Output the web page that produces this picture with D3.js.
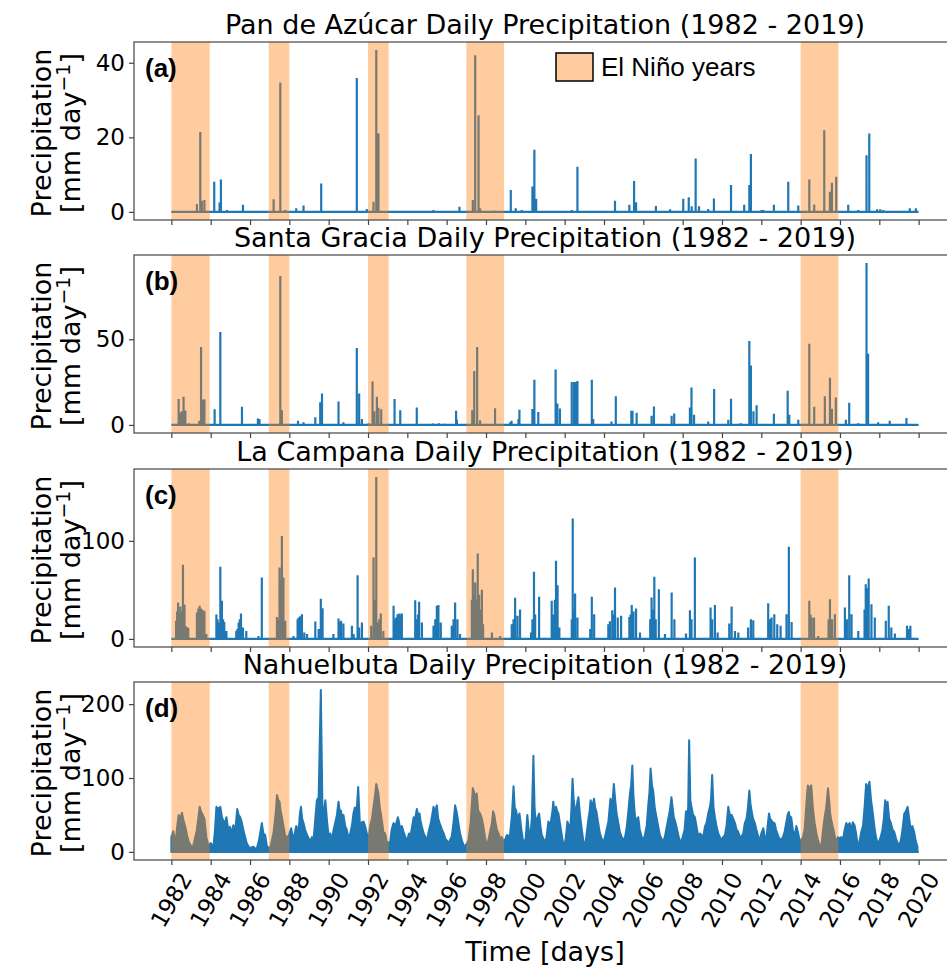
<!DOCTYPE html>
<html>
<head>
<meta charset="utf-8">
<script src="https://cdn.jsdelivr.net/npm/d3@7"></script>
<style>
  body { margin: 0; background: #fff; }
  text { font-family: "DejaVu Sans", sans-serif; }
</style>
</head>
<body>
<svg id="fig" width="947" height="967"></svg>
<script>
// station names + panel tags
var stations = ["Pan de Azúcar", "Santa Gracia", "La Campana", "Nahuelbuta"];
var tags = ["(a)", "(b)", "(c)", "(d)"];

// El Nino periods, decimal years
var ninoYears = [[1982.0, 1983.95], [1986.95, 1988.0], [1992.0, 1993.05], [1997.0, 1998.92], [2014.0, 2015.92]];

var xTickYears = [1982, 1984, 1986, 1988, 1990, 1992, 1994, 1996, 1998, 2000,
                  2002, 2004, 2006, 2008, 2010, 2012, 2014, 2016, 2018, 2020];
var yTicksA = [0, 20, 40];
var yTicksB = [0, 50];
var yTicksC = [0, 100];
var yTicksD = [0, 100, 200];

// daily precipitation peaks [year, mm/day]
var panAzucar = [
  [1983.3, 2.1], [1983.47, 21.4], [1983.55, 3], [1983.68, 3.2],
  [1984.18, 8.1], [1984.45, 2.5], [1984.52, 8.7], [1984.83, 0.5], [1985.64, 1.9],
  [1987.2, 3.4], [1987.54, 34.7], [1987.79, 0.5], [1988.35, 1], [1988.72, 1.7], [1989.62, 7.6],
  [1991.43, 35.9], [1991.94, 0.8], [1992.28, 2.7], [1992.42, 43.4], [1992.53, 21],
  [1995.33, 0.5], [1996.65, 1.4], [1997.33, 3.2], [1997.45, 42], [1997.62, 25.9], [1997.7, 1], [1998.46, 0.3],
  [1999.26, 5.9], [1999.51, 1], [1999.82, 0.5], [2000.36, 6.8], [2000.46, 16.7], [2000.55, 3.5],
  [2002.36, 0.5], [2002.65, 12.1], [2004.56, 3], [2005.29, 1.9], [2005.53, 8.3], [2005.63, 2.6],
  [2006.64, 1.6], [2007.36, 0.7],
  [2008.03, 3.5], [2008.31, 3.9], [2008.46, 1.5], [2008.66, 14.3], [2008.83, 1.5], [2009.3, 0.8],
  [2009.59, 3.6], [2010.46, 7.2],
  [2011.13, 1.9], [2011.39, 7.2], [2011.47, 15.5], [2012.01, 0.5], [2012.1, 0.5], [2012.64, 1.9],
  [2013.37, 8.1], [2013.88, 1.7],
  [2014.44, 8.7], [2014.69, 2], [2015.2, 21.9], [2015.49, 5.4], [2015.59, 7.8], [2015.81, 9.4],
  [2016.42, 1.9], [2016.93, 0.5],
  [2017.35, 15.2], [2017.49, 21], [2017.89, 0.7], [2018.05, 0.7], [2018.2, 0.5], [2019.55, 1], [2019.86, 1]
];

var santaGracia = [
  [1982.37, 15.1], [1982.46, 7.2], [1982.54, 8], [1982.62, 16.5], [1982.71, 8.4], [1982.88, 1],
  [1983.42, 2.4], [1983.51, 45.5], [1983.61, 14.7], [1983.68, 15],
  [1984.2, 9.2], [1984.49, 54.3], [1985.59, 10.6], [1986.4, 3.7], [1986.48, 3.5],
  [1987.2, 0.5], [1987.54, 87], [1987.62, 8.6], [1988.44, 2.4], [1988.72, 1.5],
  [1989.32, 4.5], [1989.57, 13.3], [1989.66, 18.4], [1990.5, 13.7], [1990.75, 1.5],
  [1991.43, 44.9], [1991.55, 18.4], [1991.69, 3.5],
  [1992.03, 1], [1992.23, 25.3], [1992.32, 8], [1992.45, 16.5], [1992.53, 10], [1992.67, 9.2],
  [1993.35, 15.1], [1993.64, 8.6], [1994.48, 10.2], [1995.3, 0.8], [1995.6, 1], [1995.9, 0.7],
  [1996.48, 8.2], [1996.52, 3],
  [1997.3, 8.5], [1997.4, 31.5], [1997.55, 45.5], [1997.7, 2.7], [1998.46, 9.8],
  [1999.23, 1.5], [1999.3, 2.5], [1999.65, 3.5], [1999.7, 8.8],
  [2000.36, 9.3], [2000.46, 26.3], [2000.66, 7.6],
  [2001.54, 32.3], [2001.63, 12.5], [2001.76, 9.6],
  [2002.36, 25.1], [2002.48, 25], [2002.58, 25.1], [2002.65, 25.6],
  [2003.38, 26.3], [2003.45, 3.5],
  [2004.38, 2], [2004.6, 16.7],
  [2005.39, 8.2], [2005.45, 8.2], [2005.66, 7.1],
  [2006.42, 5.3], [2006.54, 10.7],
  [2007.44, 5.3], [2007.57, 6.7],
  [2008.37, 10.2], [2008.45, 21.9], [2008.58, 6],
  [2009.3, 2], [2009.6, 21],
  [2010.32, 3], [2010.46, 15.3], [2010.95, 1],
  [2011.39, 49], [2011.47, 34.7], [2011.6, 8], [2011.76, 11.5],
  [2012.64, 6.5], [2013.34, 20], [2013.42, 6], [2013.88, 3],
  [2014.44, 47.4], [2014.69, 10.6],
  [2015.23, 16.7], [2015.49, 27.5], [2015.59, 9.4], [2015.79, 16],
  [2016.3, 3], [2016.47, 12.9], [2016.93, 1],
  [2017.35, 94.5], [2017.43, 41.6], [2017.94, 1.5], [2018.53, 2.5], [2019.38, 4]
];

var laCampana = [
  [1982.24, 18.4], [1982.29, 28], [1982.34, 37], [1982.4, 26], [1982.46, 33], [1982.5, 28], [1982.54, 25],
  [1982.59, 75.5], [1982.63, 30], [1982.67, 35], [1982.74, 13], [1982.8, 12], [1982.86, 11],
  [1983.3, 27], [1983.37, 31], [1983.44, 33.7], [1983.5, 31], [1983.56, 30], [1983.62, 28], [1983.68, 28.6], [1983.78, 5],
  [1984.29, 25], [1984.35, 20], [1984.4, 16.7], [1984.49, 73.5], [1984.53, 30], [1984.57, 38.8], [1984.63, 20],
  [1984.69, 17.3], [1984.8, 8],
  [1985.3, 8], [1985.36, 10], [1985.42, 16.7], [1985.48, 20], [1985.54, 25.9], [1985.64, 11.6], [1985.81, 8],
  [1986.43, 3], [1986.6, 62.6],
  [1987.37, 22.4], [1987.44, 20], [1987.5, 72.8], [1987.56, 60], [1987.62, 105], [1987.7, 62.6], [1987.79, 18.4],
  [1988.21, 3], [1988.42, 20], [1988.47, 21.8], [1988.55, 23], [1988.64, 25.2], [1988.76, 6.5], [1988.9, 5],
  [1989.32, 17.7], [1989.49, 10], [1989.6, 41], [1989.69, 31.3],
  [1990.24, 5], [1990.5, 20.7], [1990.57, 17], [1990.63, 18.4], [1990.75, 15.6],
  [1991.18, 13.3], [1991.27, 5], [1991.47, 65], [1991.55, 11.6], [1991.69, 16.7],
  [1992.16, 13.3], [1992.28, 83], [1992.35, 40], [1992.42, 165], [1992.5, 16.7], [1992.57, 20], [1992.65, 25.9], [1992.78, 8],
  [1993.3, 33.7], [1993.37, 20], [1993.43, 21.8], [1993.5, 25.2], [1993.6, 25.9], [1993.66, 24], [1993.72, 25.9],
  [1994.4, 39.5], [1994.48, 20], [1994.54, 25], [1994.6, 37.8], [1994.74, 16.7],
  [1995.33, 13.3], [1995.42, 20], [1995.5, 33.7], [1995.58, 34.7], [1995.7, 16.7],
  [1996.26, 13.3], [1996.35, 20], [1996.43, 37], [1996.55, 20], [1996.68, 5],
  [1997.28, 40], [1997.33, 71], [1997.4, 45], [1997.45, 57.5], [1997.52, 40], [1997.58, 87], [1997.65, 45], [1997.72, 30],
  [1997.79, 50], [1997.85, 15],
  [1998.3, 6.5], [1998.72, 3],
  [1999.31, 15], [1999.4, 20], [1999.48, 42], [1999.6, 23.5], [1999.73, 30],
  [2000.29, 6.5], [2000.36, 20], [2000.44, 68.4], [2000.5, 25], [2000.7, 42.9],
  [2001.34, 38.8], [2001.42, 25], [2001.5, 40], [2001.56, 79.6], [2001.64, 54.8], [2001.73, 11.6],
  [2002.36, 20], [2002.41, 122.8], [2002.47, 30], [2002.53, 46.3], [2002.65, 21.8],
  [2003.3, 10], [2003.38, 42.9], [2003.5, 25.2],
  [2004.22, 15], [2004.3, 18], [2004.42, 29.3], [2004.5, 25], [2004.56, 52.4], [2004.7, 21.8], [2004.87, 23.5],
  [2005.29, 22.4], [2005.35, 25], [2005.41, 34.7], [2005.5, 27.9], [2005.63, 31], [2005.83, 6.5],
  [2006.35, 20], [2006.42, 42.2], [2006.5, 30], [2006.56, 63.3], [2006.63, 20], [2006.79, 50.7], [2007.1, 5],
  [2007.44, 47.3], [2007.58, 20],
  [2008.17, 5.4], [2008.37, 29.3], [2008.45, 20], [2008.62, 83],
  [2009.42, 32], [2009.5, 20], [2009.64, 34.7], [2009.78, 6.5],
  [2010.37, 15.6], [2010.49, 33], [2010.66, 8], [2010.83, 6.5],
  [2011.33, 11.6], [2011.47, 20], [2011.59, 19],
  [2012.35, 36.4], [2012.45, 20], [2012.52, 21.8], [2012.66, 25.2], [2012.81, 15], [2012.98, 13.3],
  [2013.28, 25.2], [2013.4, 93.9], [2013.54, 17.3],
  [2014.44, 38.8], [2014.5, 25], [2014.56, 21.8], [2014.68, 21.8], [2014.89, 3],
  [2015.42, 20], [2015.49, 40.5], [2015.6, 20], [2015.74, 25.2],
  [2016.25, 32], [2016.35, 20], [2016.47, 65], [2016.59, 25.2], [2016.93, 8],
  [2017.25, 30], [2017.31, 55.8], [2017.39, 52], [2017.46, 61.6], [2017.6, 35.4], [2017.77, 21.8],
  [2018.33, 18.4], [2018.48, 33.7], [2018.61, 11.6], [2018.79, 5.4],
  [2019.41, 13.3], [2019.5, 10], [2019.58, 13.3]
];

// Nahuelbuta rains almost every winter day, so these are the upper envelope values
var nahuelbuta = [
  [1982.0, 20], [1982.1, 28], [1982.2, 10], [1982.3, 35], [1982.37, 50], [1982.45, 45], [1982.54, 53], [1982.62, 42],
  [1982.71, 34], [1982.8, 22], [1982.88, 14], [1983.0, 8], [1983.1, 7],
  [1983.2, 18], [1983.3, 30], [1983.44, 61], [1983.5, 55], [1983.56, 52], [1983.68, 45], [1983.78, 20], [1983.9, 7],
  [1984.0, 12], [1984.14, 7], [1984.22, 30], [1984.29, 61], [1984.4, 58], [1984.49, 61], [1984.57, 47], [1984.7, 38],
  [1984.8, 47], [1984.9, 28], [1984.98, 34],
  [1985.07, 25], [1985.15, 36], [1985.25, 30], [1985.35, 58], [1985.42, 50], [1985.5, 47], [1985.58, 40], [1985.66, 30],
  [1985.75, 20], [1985.83, 12], [1985.97, 5],
  [1986.17, 7], [1986.33, 3], [1986.45, 15], [1986.6, 39], [1986.68, 25], [1986.77, 23], [1986.86, 7],
  [1987.03, 5], [1987.2, 27], [1987.3, 50], [1987.37, 77], [1987.44, 70], [1987.5, 68], [1987.56, 55], [1987.62, 47],
  [1987.7, 35], [1987.79, 21], [1987.96, 21],
  [1988.09, 32], [1988.21, 16], [1988.35, 35], [1988.47, 27], [1988.53, 50], [1988.59, 61], [1988.65, 45], [1988.72, 39],
  [1988.8, 30], [1988.9, 23], [1989.06, 14],
  [1989.15, 20], [1989.23, 16], [1989.32, 45], [1989.4, 70], [1989.49, 74], [1989.6, 219], [1989.69, 43], [1989.76, 55],
  [1989.83, 70], [1989.92, 40], [1990.0, 21],
  [1990.08, 25], [1990.17, 16], [1990.25, 30], [1990.33, 39], [1990.42, 50], [1990.5, 68], [1990.56, 55], [1990.62, 56],
  [1990.7, 45], [1990.75, 50], [1990.84, 35], [1990.92, 30],
  [1991.0, 20], [1991.08, 23], [1991.18, 35], [1991.26, 52], [1991.33, 60], [1991.4, 47], [1991.5, 88], [1991.6, 30],
  [1991.68, 40], [1991.77, 41], [1991.85, 35], [1991.94, 25],
  [1992.02, 15], [1992.1, 34], [1992.2, 45], [1992.28, 61], [1992.35, 75], [1992.42, 92], [1992.48, 85], [1992.53, 79],
  [1992.6, 60], [1992.65, 52], [1992.72, 40], [1992.78, 27], [1992.87, 25], [1992.95, 14],
  [1993.12, 12], [1993.2, 30], [1993.3, 39], [1993.4, 35], [1993.52, 47], [1993.58, 40], [1993.64, 30], [1993.72, 35],
  [1993.81, 27], [1993.9, 20], [1993.98, 14],
  [1994.08, 25], [1994.15, 21], [1994.25, 35], [1994.32, 47], [1994.4, 45], [1994.48, 58], [1994.55, 50], [1994.62, 52],
  [1994.68, 40], [1994.74, 34], [1994.83, 25], [1994.91, 21],
  [1995.0, 15], [1995.08, 27], [1995.2, 40], [1995.33, 61], [1995.42, 55], [1995.5, 63], [1995.57, 45], [1995.64, 39],
  [1995.7, 35], [1995.76, 30], [1995.85, 25], [1995.93, 18],
  [1996.1, 12], [1996.26, 21], [1996.35, 40], [1996.43, 63], [1996.5, 55], [1996.55, 47], [1996.62, 35], [1996.68, 25],
  [1996.78, 15], [1996.89, 7],
  [1997.0, 10], [1997.11, 16], [1997.22, 40], [1997.33, 86], [1997.4, 80], [1997.45, 74], [1997.53, 79], [1997.6, 56],
  [1997.7, 52], [1997.79, 45], [1997.87, 34], [1997.95, 20], [1998.04, 7],
  [1998.15, 20], [1998.3, 39], [1998.36, 55], [1998.42, 50], [1998.48, 40], [1998.55, 30], [1998.63, 25], [1998.72, 18],
  [1998.8, 20], [1998.89, 14],
  [1999.0, 18], [1999.06, 23], [1999.15, 20], [1999.23, 25], [1999.32, 50], [1999.4, 89], [1999.46, 60], [1999.53, 56],
  [1999.6, 45], [1999.7, 52], [1999.8, 30], [1999.9, 12],
  [2000.02, 18], [2000.1, 50], [2000.17, 30], [2000.24, 16], [2000.33, 45], [2000.41, 130], [2000.47, 60], [2000.53, 39],
  [2000.6, 45], [2000.7, 52], [2000.77, 35], [2000.83, 23], [2000.92, 18], [2001.0, 12],
  [2001.08, 20], [2001.17, 41], [2001.25, 35], [2001.31, 43], [2001.38, 55], [2001.42, 68], [2001.5, 50], [2001.56, 61],
  [2001.62, 55], [2001.68, 52], [2001.75, 40], [2001.81, 30], [2001.9, 15], [2001.98, 5],
  [2002.06, 20], [2002.14, 41], [2002.21, 35], [2002.28, 30], [2002.34, 55], [2002.4, 99], [2002.46, 70], [2002.53, 54],
  [2002.6, 60], [2002.66, 70], [2002.7, 74], [2002.78, 50], [2002.87, 30], [2002.95, 15], [2003.04, 7],
  [2003.12, 25], [2003.2, 43], [2003.27, 55], [2003.32, 70], [2003.4, 60], [2003.49, 72], [2003.55, 60], [2003.62, 54],
  [2003.7, 40], [2003.79, 25], [2003.88, 18], [2003.96, 12],
  [2004.05, 20], [2004.13, 30], [2004.22, 40], [2004.33, 72], [2004.42, 60], [2004.5, 92], [2004.57, 70], [2004.64, 52],
  [2004.72, 40], [2004.81, 27], [2004.9, 20], [2004.98, 16],
  [2005.07, 20], [2005.15, 32], [2005.24, 55], [2005.32, 79], [2005.38, 90], [2005.44, 117], [2005.5, 75], [2005.57, 50],
  [2005.65, 40], [2005.74, 47], [2005.82, 30], [2005.91, 21],
  [2006.0, 15], [2006.08, 23], [2006.17, 35], [2006.25, 63], [2006.31, 80], [2006.37, 113], [2006.44, 90], [2006.5, 83],
  [2006.58, 60], [2006.67, 47], [2006.75, 35], [2006.84, 23], [2006.92, 18], [2007.0, 14],
  [2007.09, 20], [2007.18, 32], [2007.27, 45], [2007.35, 56], [2007.43, 74], [2007.49, 60], [2007.55, 47], [2007.63, 40],
  [2007.72, 30], [2007.8, 20], [2007.89, 12],
  [2008.0, 20], [2008.1, 30], [2008.17, 55], [2008.22, 41], [2008.28, 60], [2008.33, 151], [2008.39, 70], [2008.45, 61],
  [2008.53, 50], [2008.62, 47], [2008.7, 35], [2008.79, 21], [2008.88, 25], [2008.96, 23],
  [2009.05, 20], [2009.13, 34], [2009.22, 40], [2009.3, 52], [2009.38, 60], [2009.44, 70], [2009.5, 104], [2009.57, 60],
  [2009.64, 47], [2009.72, 35], [2009.81, 25], [2009.9, 20], [2009.98, 16],
  [2010.06, 20], [2010.15, 23], [2010.23, 35], [2010.32, 61], [2010.4, 50], [2010.49, 50], [2010.57, 45], [2010.66, 39],
  [2010.74, 30], [2010.83, 27], [2010.91, 20], [2010.99, 21],
  [2011.08, 25], [2011.16, 39], [2011.25, 45], [2011.32, 60], [2011.39, 83], [2011.45, 65], [2011.5, 56], [2011.58, 45],
  [2011.67, 39], [2011.75, 30], [2011.84, 21], [2011.92, 15], [2012.0, 25], [2012.1, 32],
  [2012.18, 20], [2012.25, 14], [2012.32, 35], [2012.39, 52], [2012.45, 45], [2012.5, 43], [2012.58, 40], [2012.67, 39],
  [2012.75, 30], [2012.84, 23], [2012.92, 18], [2013.01, 16],
  [2013.1, 20], [2013.18, 27], [2013.27, 40], [2013.34, 50], [2013.4, 54], [2013.46, 45], [2013.52, 47], [2013.6, 30],
  [2013.69, 21], [2013.78, 35], [2013.86, 27], [2013.95, 15], [2014.03, 16],
  [2014.12, 20], [2014.2, 30], [2014.28, 60], [2014.33, 80], [2014.37, 90], [2014.45, 85], [2014.54, 90], [2014.62, 60],
  [2014.71, 39], [2014.8, 25], [2014.88, 16], [2014.96, 10], [2015.05, 7],
  [2015.14, 30], [2015.22, 47], [2015.3, 60], [2015.39, 86], [2015.45, 70], [2015.5, 52], [2015.58, 40], [2015.67, 30],
  [2015.74, 20], [2015.81, 14], [2015.9, 20],
  [2015.98, 18], [2016.07, 20], [2016.15, 16], [2016.24, 30], [2016.32, 39], [2016.4, 35], [2016.49, 39], [2016.57, 30],
  [2016.65, 40], [2016.74, 36], [2016.82, 25], [2016.91, 7],
  [2017.0, 15], [2017.08, 27], [2017.17, 35], [2017.25, 60], [2017.33, 92], [2017.42, 85], [2017.5, 95], [2017.58, 70],
  [2017.67, 52], [2017.75, 34], [2017.83, 20], [2017.91, 12],
  [2018.0, 15], [2018.08, 21], [2018.16, 30], [2018.23, 45], [2018.3, 70], [2018.36, 50], [2018.42, 68], [2018.5, 45],
  [2018.59, 39], [2018.67, 30], [2018.76, 27], [2018.85, 18], [2018.93, 12],
  [2019.02, 10], [2019.1, 16], [2019.18, 30], [2019.27, 52], [2019.35, 55], [2019.44, 61], [2019.52, 45], [2019.6, 30],
  [2019.68, 35], [2019.77, 27], [2019.85, 15], [2019.94, 7]
];

var svg = d3.select("#fig");
svg.append("rect").attr("width", 947).attr("height", 967).attr("fill", "#fff");

var lineColor = "#1f77b4", ninoColor = "#ff7f0e", ninoAlpha = 0.4, spine = "#444";
var left = 134, right = 956, panelH = 178;
var tops = [42, 255, 469, 682];

var x = d3.scaleLinear().domain([1980.1, 2021.9]).range([left, right]);

var panels = [
  {name: stations[0], tag: tags[0], data: panAzucar, ticks: yTicksA, kind: "stem"},
  {name: stations[1], tag: tags[1], data: santaGracia, ticks: yTicksB, kind: "stem"},
  {name: stations[2], tag: tags[2], data: laCampana, ticks: yTicksC, kind: "stem"},
  {name: stations[3], tag: tags[3], data: nahuelbuta, ticks: yTicksD, kind: "area"}
];

panels.forEach(function(p, i) {
  var top = tops[i], bottom = top + panelH;
  var ymax = d3.max(p.data, function(d) { return d[1]; });
  var y = d3.scaleLinear().domain([-0.05 * ymax, 1.05 * ymax]).range([bottom, top]);

  var g = svg.append("g");
  g.append("clipPath").attr("id", "clip" + i)
    .append("rect").attr("x", left).attr("y", top).attr("width", right - left).attr("height", panelH);
  var plot = g.append("g").attr("clip-path", "url(#clip" + i + ")");

  // zero line over the whole record
  plot.append("path")
    .attr("d", d3.line()([[x(1982), y(0)], [x(2020), y(0)]]))
    .attr("stroke", lineColor).attr("stroke-width", 2.2).attr("fill", "none");

  if (p.kind === "stem") {
    var stems = p.data.map(function(d) { return "M" + x(d[0]) + "," + y(0) + "V" + y(d[1]); }).join("");
    plot.append("path").attr("d", stems)
      .attr("stroke", lineColor).attr("stroke-width", 2.2).attr("fill", "none");
  } else {
    var pts = [[p.data[0][0], 0]].concat(p.data, [[p.data[p.data.length - 1][0], 0]]);
    var area = d3.area()
      .x(function(d) { return x(d[0]); })
      .y0(y(0))
      .y1(function(d) { return y(d[1]); });
    plot.append("path").attr("d", area(pts))
      .attr("fill", lineColor).attr("stroke", lineColor).attr("stroke-width", 2)
      .attr("stroke-linejoin", "round");
  }

  // El Nino shading on top of the line
  plot.selectAll(".nino").data(ninoYears).enter().append("rect")
    .attr("x", function(d) { return x(d[0]); })
    .attr("width", function(d) { return x(d[1]) - x(d[0]); })
    .attr("y", top).attr("height", panelH)
    .attr("fill", ninoColor).attr("fill-opacity", ninoAlpha);

  // axes
  var xa = g.append("g").attr("transform", "translate(0," + bottom + ")")
    .call(d3.axisBottom(x).tickValues(xTickYears).tickSize(5).tickFormat(""));
  xa.select(".domain").remove();
  xa.selectAll("line").attr("stroke", spine).attr("stroke-width", 1.2);

  var ya = g.append("g").attr("transform", "translate(" + left + ",0)")
    .call(d3.axisLeft(y).tickValues(p.ticks).tickSize(5).tickPadding(4));
  ya.select(".domain").remove();
  ya.selectAll("line").attr("stroke", spine).attr("stroke-width", 1.2);
  ya.selectAll("text").attr("font-size", 23).attr("fill", "#000")
    .style("font-family", "DejaVu Sans");

  g.append("rect").attr("x", left).attr("y", top).attr("width", right - left).attr("height", panelH)
    .attr("fill", "none").attr("stroke", spine).attr("stroke-width", 1.2);

  // title and panel tag
  g.append("text").attr("x", (left + right) / 2).attr("y", top - 8)
    .attr("text-anchor", "middle").attr("font-size", 27)
    .text(p.name + " Daily Precipitation (1982 - 2019)");
  g.append("text").attr("x", 145).attr("y", top + 35)
    .style("font-family", "'Liberation Sans', Arial, sans-serif")
    .attr("font-weight", "bold").attr("font-size", 26)
    .text(p.tag);

  // y label, two lines
  var cy = top + panelH / 2 + 2;
  var yl = g.append("text").attr("transform", "translate(51," + cy + ") rotate(-90)")
    .attr("text-anchor", "middle").attr("font-size", 27);
  yl.text("Precipitation");
  var yl2 = g.append("text").attr("transform", "translate(80," + cy + ") rotate(-90)")
    .attr("text-anchor", "middle").attr("font-size", 27);
  yl2.append("tspan").text("[mm day");
  yl2.append("tspan").attr("dy", -10).attr("font-size", 19).text("\u22121");
  yl2.append("tspan").attr("dy", 10).text("]");

  if (i === 0) {
    var leg = g.append("g");
    leg.append("rect").attr("x", 556).attr("y", 53).attr("width", 37).attr("height", 28)
      .attr("fill", "#fff");
    leg.append("rect").attr("x", 556).attr("y", 53).attr("width", 37).attr("height", 28)
      .attr("fill", ninoColor).attr("fill-opacity", ninoAlpha)
      .attr("stroke", "#000").attr("stroke-width", 1.5);
    leg.append("text").attr("x", 601).attr("y", 76)
      .style("font-family", "'Liberation Sans', Arial, sans-serif").attr("font-size", 26)
      .text("El Ni\u00f1o years");
  }

  if (i === panels.length - 1) {
    g.selectAll(".xlab").data(xTickYears).enter().append("text")
      .attr("transform", function(d) { return "translate(" + x(d) + "," + (bottom + 40) + ") rotate(-60)"; })
      .attr("text-anchor", "middle").attr("dominant-baseline", "central")
      .attr("font-size", 23)
      .text(function(d) { return d; });
    g.append("text").attr("x", (left + right) / 2).attr("y", 961)
      .attr("text-anchor", "middle").attr("font-size", 27)
      .text("Time [days]");
  }
});
</script>
</body>
</html>
